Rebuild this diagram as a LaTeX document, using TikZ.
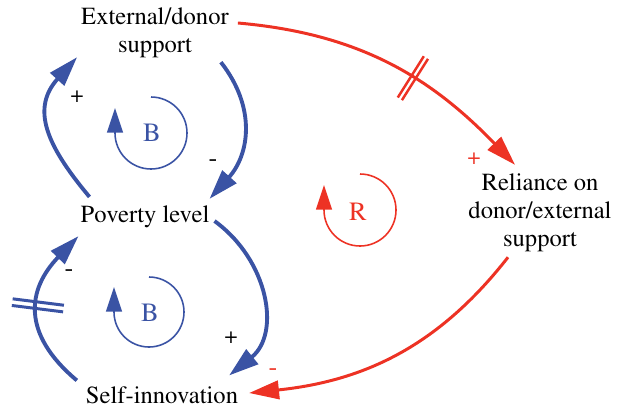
\documentclass[tikz,border=0pt]{standalone}
\usepackage[T1]{fontenc}
\renewcommand{\rmdefault}{ptm}
\usetikzlibrary{
    arrows.meta,
    decorations.markings
}
\definecolor{cldblue}{RGB}{58,83,164}
\definecolor{cldred}{RGB}{237,50,36}

\tikzset{
    var/.style={align=center, font=\fontsize{14}{16}\selectfont, inner sep=1pt},
    bluelink/.style={cldblue, line width=2.2pt, -{Triangle[length=17pt,width=10.5pt]}},
    redlink/.style={cldred, line width=1.7pt, -{Triangle[length=17pt,width=10.5pt]}},
    looparrow/.style={line width=0.9pt, -{Triangle[length=14pt,width=9pt]}},
    looplabel/.style={font=\fontsize{15}{15}\selectfont},
    sign/.style={font=\fontsize{13}{13}\selectfont, inner sep=0pt},
    minus/.style={font=\fontsize{15}{15}\selectfont, inner sep=0pt},
    bluedelay/.style={postaction={decorate, decoration={markings,
        mark=at position #1 with {
            \draw[-, line width=1.7pt] (-1.9pt,-14.7pt) -- (-1.9pt,14.7pt)
                                      (1.9pt,-14.7pt) -- (1.9pt,14.7pt);}}}},
    reddelay/.style={postaction={decorate, decoration={markings,
        mark=at position #1 with {
            \draw[-, line width=1.4pt] (-1.4pt,-13.9pt) -- (-1.4pt,13.9pt)
                                      (1.4pt,-13.9pt) -- (1.4pt,13.9pt);}}}}
}

\begin{document}
\begin{tikzpicture}[x=0.02cm, y=0.02cm]
\useasboundingbox (0,0) rectangle (617,407);

% variables
\node[var] (ext)  at (155,374) {External/donor\\support};
\node[var] (pov)  at (145,190) {Poverty level};
\node[var] (self) at (162,12)  {Self-innovation};
\node[var] (rel)  at (540,194) {Reliance on\\donor/external\\support};

%% upper balancing loop
\draw[bluelink] ([shift={(11,7)}]pov.north west)
    to[out=130, in=228, looseness=1.25] ([shift={(-2,3)}]ext.south west);
\draw[bluelink] ([shift={(-10,-2)}]ext.south east)
    to[out=-52, in=48, looseness=1.1] ([shift={(-2,5)}]pov.north east);

%% lower balancing loop
\draw[bluelink] ([shift={(3,-4)}]pov.east)
    to[out=-36, in=39, looseness=1.1] ([shift={(-11,9)}]self.north east);
\draw[bluelink, bluedelay=0.52] ([shift={(-7,4)}]self.north west)
    to[out=140, in=226, looseness=1.3] ([shift={(0,-6)}]pov.south west);

%% reinforcing loop
\draw[redlink, reddelay=0.58] ([shift={(7,10)}]ext.east)
    to[out=-5, in=134] ([shift={(-25,7)}]rel.north);
\draw[redlink] ([shift={(-32,-3)}]rel.south)
    to[out=232, in=6] ([shift={(9,2)}]self.east);

% polarities
\node[sign] (s1) at (77,310) {+};
\node[minus] (s2) at (213,244) {-};
\node[minus] (s3) at (69,134) {-};
\node[sign] (s4) at (231,69) {+};
\node[sign, text=cldred] (s5) at (474,248) {+};
\node[minus, text=cldred] (s6) at (273,35) {-};

% loop markers
\draw[looparrow, cldblue] (151,310) arc[start angle=90, end angle=-180, radius=36] -- ++(0,25);
\node[looplabel, text=cldblue] (b1) at (152,274) {B};
\draw[looparrow, cldblue] (149,130) arc[start angle=90, end angle=-180, radius=35] -- ++(0,25);
\node[looplabel, text=cldblue] (b2) at (150,94) {B};
\draw[looparrow, cldred] (360,233) arc[start angle=90, end angle=-180, radius=36] -- ++(0,25);
\node[looplabel, text=cldred] (r1) at (358,195) {R};
\end{tikzpicture}
\end{document}
